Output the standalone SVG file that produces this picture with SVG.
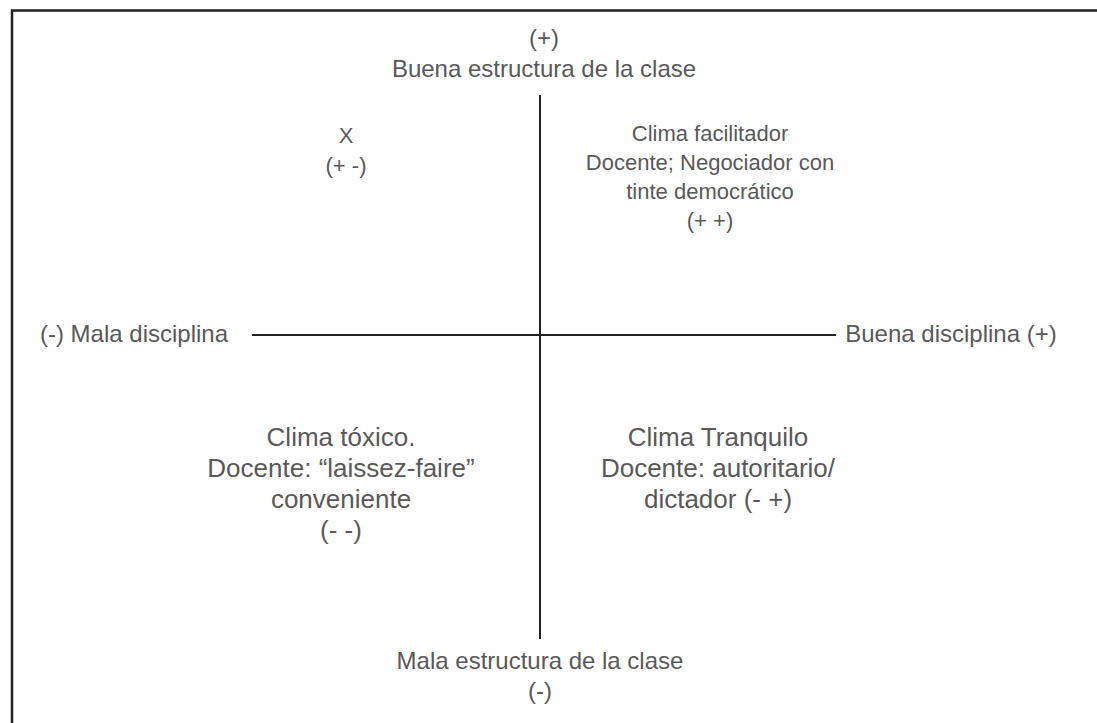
<svg xmlns="http://www.w3.org/2000/svg" width="1097" height="723" viewBox="0 0 1097 723">
<style>
text{font-family:"Liberation Sans",Arial,sans-serif;fill:#595959;text-anchor:middle}
.ax{font-size:24px}
.q1{font-size:22px}
.q2{font-size:26px}
.ln{stroke:#222;stroke-width:2;fill:none}
.fr{stroke:#222;stroke-width:2.5;fill:none}
</style>
<rect width="1097" height="723" fill="#fff"/>
<path class="fr" d="M12,740 V10.5 H1100"/>
<g id="connectors">
<line class="ln" x1="540" y1="95" x2="540" y2="639"/>
<line class="ln" x1="252" y1="335" x2="836" y2="335"/>
</g>
<g id="top-label"><text class="ax" x="544" y="46">(+)</text><text class="ax" x="544" y="77">Buena estructura de la clase</text></g>
<g id="bottom-label"><text class="ax" x="540" y="669">Mala estructura de la clase</text><text class="ax" x="540" y="699">(-)</text></g>
<g id="left-label"><text class="ax" x="134" y="342">(-) Mala disciplina</text></g>
<g id="right-label"><text class="ax" x="951" y="342">Buena disciplina (+)</text></g>
<g id="q-top-left"><text class="q1" x="346" y="143">X</text><text class="q1" x="346" y="173">(+ -)</text></g>
<g id="q-top-right"><text class="q1" x="710" y="141">Clima facilitador</text><text class="q1" x="710" y="170">Docente; Negociador con</text><text class="q1" x="710" y="199">tinte democrático</text><text class="q1" x="710" y="228">(+ +)</text></g>
<g id="q-bottom-left"><text class="q2" x="341" y="446">Clima tóxico.</text><text class="q2" x="341" y="477">Docente: “laissez-faire”</text><text class="q2" x="341" y="508">conveniente</text><text class="q2" x="341" y="539">(- -)</text></g>
<g id="q-bottom-right"><text class="q2" x="718" y="446">Clima Tranquilo</text><text class="q2" x="718" y="477">Docente: autoritario/</text><text class="q2" x="718" y="508">dictador (- +)</text></g>
</svg>
